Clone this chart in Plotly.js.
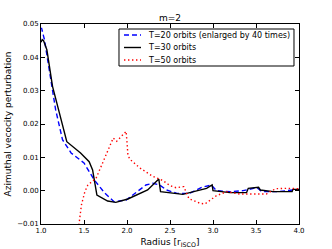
<!DOCTYPE html>
<html><head><meta charset="utf-8">
<script src="https://cdn.plot.ly/plotly-3.0.1.min.js"></script>
<style>html,body{margin:0;padding:0;background:#fff;}#chart{width:332px;height:249px;}</style>
</head><body><div id="chart"></div>
<script>
const names = ["T=20 orbits (enlarged by 40 times)", "T=30 orbits", "T=50 orbits"];
const x20 = [1.0, 1.006, 1.04, 1.095, 1.17, 1.25, 1.35, 1.50, 1.62, 1.74, 1.85, 1.99, 2.12, 2.22, 2.30, 2.38, 2.46, 2.58, 2.73, 2.87, 2.98, 3.04, 3.20, 3.35, 3.51, 3.57, 3.75, 3.93, 4.0];
const y20 = [0.0485, 0.0488, 0.0453, 0.0363, 0.0243, 0.0153, 0.0113, 0.0083, 0.0032, -0.0007, -0.0033, -0.0028, -0.0003, 0.0017, 0.0022, 0.0017, 0.0002, -0.0008, -0.0008, 0.0010, 0.0017, 0.0000, -0.0003, 0.0000, 0.0009, -0.0003, -0.0003, 0.0002, 0.0004];
const x30 = [1.0, 1.014, 1.03, 1.068, 1.134, 1.25, 1.30, 1.46, 1.56, 1.60, 1.627, 1.65, 1.775, 1.87, 2.01, 2.24, 2.37, 2.39, 2.65, 2.925, 2.99, 3.0, 3.197, 3.39, 3.41, 3.53, 3.55, 3.70, 3.92, 3.93, 4.0];
const y30 = [0.0445, 0.0453, 0.0450, 0.0423, 0.0313, 0.0193, 0.0147, 0.0113, 0.0087, 0.0062, 0.0018, -0.0013, -0.0031, -0.0035, -0.0025, 0.0002, 0.0035, -0.0003, -0.0011, 0.0007, 0.0017, 0.0000, -0.0006, -0.0006, 0.0007, 0.0010, 0.0002, -0.0003, -0.0003, 0.0004, 0.0004];
const x50 = [1.435, 1.47, 1.51, 1.545, 1.64, 1.72, 1.80, 1.84, 1.88, 1.915, 1.99, 2.01, 2.03, 2.15, 2.30, 2.42, 2.50, 2.57, 2.66, 2.72, 2.85, 2.905, 3.04, 3.16, 3.31, 3.50, 3.62, 3.73, 3.85, 4.0];
const y50 = [-0.0115, -0.0043, -0.0003, 0.0017, 0.0037, 0.0087, 0.0133, 0.0158, 0.0148, 0.0158, 0.0178, 0.0110, 0.0095, 0.0068, 0.0043, 0.0030, 0.0015, 0.0009, 0.0012, -0.0024, -0.0038, -0.0040, -0.0015, -0.0003, -0.0010, -0.0010, -0.0010, 0.0006, 0.0007, 0.0006];
const xTicks = [1.0, 1.5, 2.0, 2.5, 3.0, 3.5, 4.0];
const yTicks = [-0.01, 0.0, 0.01, 0.02, 0.03, 0.04, 0.05];

const font = "DejaVu Sans, sans-serif";
const lineStyles = [
  {color: "#0000ff", width: 1.4, dash: "5px,3px"},
  {color: "#000000", width: 1.4, dash: "solid"},
  {color: "#ff0000", width: 1.4, dash: "1.4px,2.6px"}
];
const traces = [
  {x: x20, y: y20, name: names[0], mode: "lines", line: lineStyles[0]},
  {x: x30, y: y30, name: names[1], mode: "lines", line: lineStyles[1]},
  {x: x50, y: y50, name: names[2], mode: "lines", line: lineStyles[2]}
];

// custom compact legend (matplotlib-like)
const legRowsY = [0.945, 0.8825, 0.82];
const shapes = [{type: "rect", xref: "paper", yref: "paper", x0: 0.3023, x1: 0.9806, y0: 0.79, y1: 0.975, line: {color: "#000", width: 1}, fillcolor: "#fff", layer: "above"}];
const annotations = [];
names.forEach((n, i) => {
  shapes.push({type: "line", xref: "paper", yref: "paper", x0: 0.3217, x1: 0.3876, y0: legRowsY[i], y1: legRowsY[i], line: lineStyles[i], layer: "above"});
  annotations.push({xref: "paper", yref: "paper", x: 0.407, y: legRowsY[i], xanchor: "left", yanchor: "middle", text: n, showarrow: false, font: {family: font, size: 8, color: "#000"}});
});

const axisCommon = {showline: true, linecolor: "#000", linewidth: 1, mirror: "ticks", ticks: "inside", ticklen: 4, tickcolor: "#000", showgrid: false, zeroline: false, tickfont: {family: font, size: 7, color: "#000"}};
const layout = {
  width: 332, height: 249,
  margin: {l: 41, r: 33, t: 24, b: 25},
  paper_bgcolor: "#fff", plot_bgcolor: "#fff",
  font: {family: font, color: "#000"},
  title: {text: "m=2", font: {family: font, size: 9, color: "#000"}, x: 0.512, xanchor: "center", y: 0.93, yanchor: "middle"},
  xaxis: Object.assign({}, axisCommon, {range: [1.0, 4.0], tickvals: xTicks, ticktext: xTicks.map(v => v.toFixed(1)), title: {text: "Radius [r<sub>ISCO</sub>]", font: {family: font, size: 9, color: "#000"}, standoff: 4}}),
  yaxis: Object.assign({}, axisCommon, {range: [-0.01, 0.05], tickvals: yTicks, ticktext: yTicks.map(v => (v < 0 ? "\u2212" : "") + Math.abs(v).toFixed(2)), title: {text: "Azimuthal vecocity perturbation", font: {family: font, size: 9, color: "#000"}, standoff: 3}}),
  showlegend: false,
  shapes: shapes,
  annotations: annotations
};
Plotly.newPlot("chart", traces, layout, {staticPlot: true, displayModeBar: false});
</script></body></html>
